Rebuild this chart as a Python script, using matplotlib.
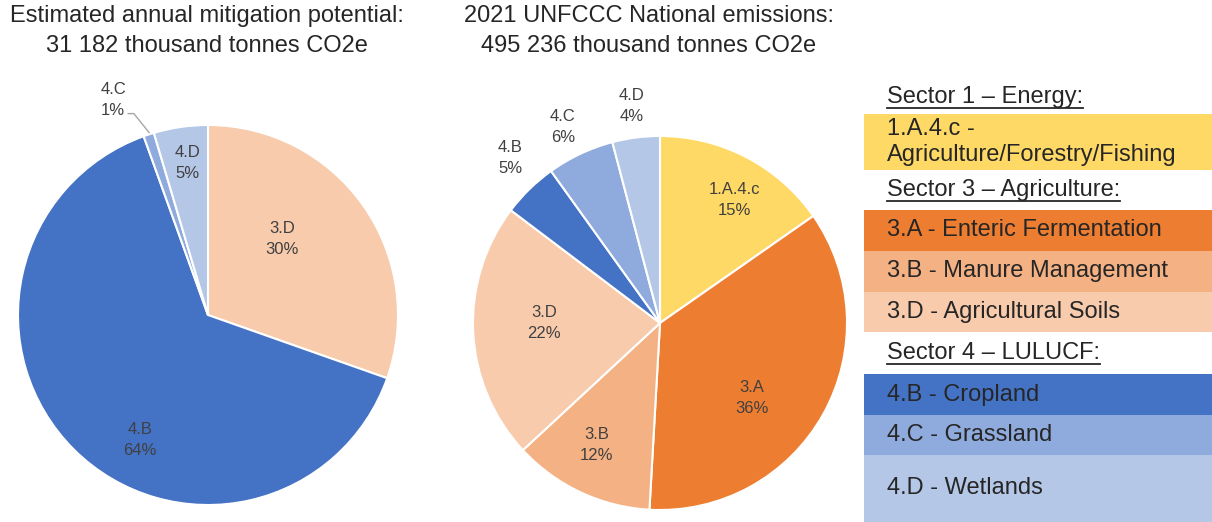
import matplotlib
matplotlib.use("Agg")
import matplotlib.pyplot as plt
from matplotlib.patches import Rectangle

plt.rcParams['font.family'] = ['Liberation Sans', 'DejaVu Sans']

# ---------------- data ----------------
left_title = "Estimated annual mitigation potential:\n31 182 thousand tonnes CO2e"
right_title = "2021 UNFCCC National emissions:\n495 236 thousand tonnes CO2e"

left_labels = ["3.D", "4.B", "4.C", "4.D"]
left_values = [30.4, 64.1, 0.9, 4.6]
left_colors = ["#F8CBAD", "#4472C4", "#8FAADC", "#B4C7E7"]

right_labels = ["1.A.4.c", "3.A", "3.B", "3.D", "4.B", "4.C", "4.D"]
right_values = [15.3, 35.6, 12.2, 22.2, 4.8, 5.8, 4.1]
right_colors = ["#FFD966", "#ED7D31", "#F4B183", "#F8CBAD", "#4472C4", "#8FAADC", "#B4C7E7"]

# label positions (in pie-radius units, relative to the pie centre)
left_label_pos = [(0.39, 0.40), (-0.36, -0.66), (-0.50, 1.13), (-0.11, 0.80)]
right_label_pos = [(0.40, 0.66), (0.49, -0.40), (-0.34, -0.65), (-0.62, 0.0),
                   (-0.80, 0.88), (-0.52, 1.05), (-0.15, 1.16)]

legend_rows = [
    ("header", "Sector 1 \u2013 Energy:", None, 34),
    ("box", "1.A.4.c -\nAgriculture/Forestry/Fishing", "#FFD966", 56),
    ("header", "Sector 3 \u2013 Agriculture:", None, 40),
    ("box", "3.A - Enteric Fermentation", "#ED7D31", 41),
    ("box", "3.B - Manure Management", "#F4B183", 41),
    ("box", "3.D - Agricultural Soils", "#F8CBAD", 40),
    ("header", "Sector 4 \u2013 LULUCF:", None, 42),
    ("box", "4.B - Cropland", "#4472C4", 41),
    ("box", "4.C - Grassland", "#8FAADC", 40),
    ("box", "4.D - Wetlands", "#B4C7E7", 67),
]

W, H = 1212, 522
fig = plt.figure(figsize=(W / 100, H / 100), dpi=100)
TXT = "#262626"
LBL = "#404040"


def pie_axes(cx, cy, r):
    return fig.add_axes([(cx - r) / W, (H - cy - r) / H, 2 * r / W, 2 * r / H])


def draw_pie(ax, values, colors, labels, pos):
    ax.pie(values, colors=colors, startangle=90, counterclock=False,
           wedgeprops=dict(edgecolor="white", linewidth=1.5), radius=1.0)
    total = sum(values)
    for v, lab, (x, y) in zip(values, labels, pos):
        ax.text(x, y, f"{lab}\n{round(100 * v / total):.0f}%", ha="center", va="center",
                fontsize=12, color=LBL, linespacing=1.5, clip_on=False)
    ax.set_xlim(-1, 1)
    ax.set_ylim(-1, 1)
    ax.set_aspect("equal")
    ax.axis("off")


axL = pie_axes(208, 315, 190)
draw_pie(axL, left_values, left_colors, left_labels, left_label_pos)
# leader line for 4.C
axL.plot([-0.42, -0.39, -0.31], [1.06, 1.06, 0.96], color="#A6A6A6", lw=1, clip_on=False)

axR = pie_axes(660, 323, 187)
draw_pie(axR, right_values, right_colors, right_labels, right_label_pos)

fig.text(207 / W, 1 - 31 / H, left_title, ha="center", va="center", fontsize=17,
         color=TXT, linespacing=1.5)
fig.text(649 / W, 1 - 31 / H, right_title, ha="center", va="center", fontsize=17,
         color=TXT, linespacing=1.5)

# legend panel in pixel coordinates
axG = fig.add_axes([864 / W, 0, (W - 864) / W, (H - 80) / H])
axG.set_xlim(0, W - 864)
axG.set_ylim(H, 80)
axG.axis("off")
y = 80
headers = []
for kind, text, color, h in legend_rows:
    if kind == "box":
        axG.add_patch(Rectangle((0, y), W - 864, h, facecolor=color, edgecolor="none"))
        axG.text(23, y + h / 2, text, ha="left", va="center", fontsize=17, color=TXT,
                 linespacing=1.25)
    else:
        t = axG.text(23, y + h / 2, text, ha="left", va="center", fontsize=17, color=TXT)
        headers.append((t, y + h / 2))
    y += h

fig.canvas.draw()
renderer = fig.canvas.get_renderer()
inv = axG.transData.inverted()
for t, yc in headers:
    bb = t.get_window_extent(renderer)
    x0, _ = inv.transform((bb.x0, bb.y0))
    x1, _ = inv.transform((bb.x1, bb.y0))
    axG.plot([x0, x1], [yc + 11, yc + 11], color=TXT, lw=1.3)

fig.savefig("out.png", dpi=100)
